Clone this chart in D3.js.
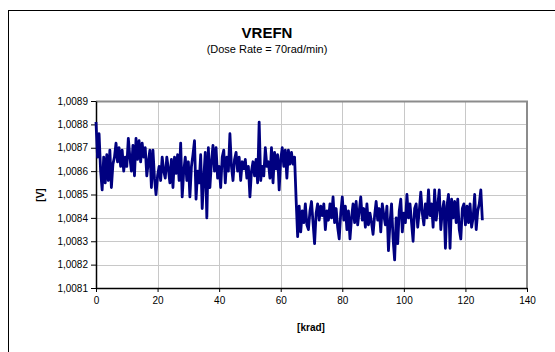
<!DOCTYPE html>
<html>
<head>
<meta charset="utf-8">
<script src="https://cdn.jsdelivr.net/npm/d3@7"></script>
<style>
  body { margin: 0; background: #fff; }
  svg { font-family: "Liberation Sans", Arial, sans-serif; }
  .tick text { font-size: 10px; fill: #000; }
</style>
</head>
<body>
<div id="chart"></div>
<script>
var svgWidth = 555;
var svgHeight = 352;

var margin = { top: 101, right: 28, bottom: 64, left: 96 };
var chartWidth = 527 - margin.left;
var chartHeight = 288 - margin.top;

var titleText = "VREFN";
var subtitleText = "(Dose Rate = 70rad/min)";
var xLabel = "[krad]";
var yLabel = "[V]";

var xTicks = [0, 20, 40, 60, 80, 100, 120, 140];
var yTicks = [1.0081, 1.0082, 1.0083, 1.0084, 1.0085, 1.0086, 1.0087, 1.0088, 1.0089];

// dose in krad
var dose = [
  0, 0.5, 1, 1.5, 2, 2.5, 3, 3.5, 4, 4.5, 5, 5.5, 6, 6.5, 7, 7.5, 8, 8.5, 9, 9.5,
  10, 10.5, 11, 11.5, 12, 12.5, 13, 13.5, 14, 14.5, 15, 15.5, 16, 16.5, 17, 17.5, 18, 18.5, 19, 19.5,
  20, 20.5, 21, 21.5, 22, 22.5, 23, 23.5, 24, 24.5, 25, 25.5, 26, 26.5, 27, 27.5, 28, 28.5, 29, 29.5,
  30, 30.5, 31, 31.5, 32, 32.5, 33, 33.5, 34, 34.5, 35, 35.5, 36, 36.5, 37, 37.5, 38, 38.5, 39, 39.5,
  40, 40.5, 41, 41.5, 42, 42.5, 43, 43.5, 44, 44.5, 45, 45.5, 46, 46.5, 47, 47.5, 48, 48.5, 49, 49.5,
  50, 50.5, 51, 51.5, 52, 52.5, 53, 53.5, 54, 54.5, 55, 55.5, 56, 56.5, 57, 57.5, 58, 58.5, 59, 59.5,
  60, 60.5, 61, 61.5, 62, 62.5, 63, 63.5, 64, 64.5, 65, 65.5, 66, 66.5, 67, 67.5, 68, 68.5, 69, 69.5,
  70, 70.5, 71, 71.5, 72, 72.5, 73, 73.5, 74, 74.5, 75, 75.5, 76, 76.5, 77, 77.5, 78, 78.5, 79, 79.5,
  80, 80.5, 81, 81.5, 82, 82.5, 83, 83.5, 84, 84.5, 85, 85.5, 86, 86.5, 87, 87.5, 88, 88.5, 89, 89.5,
  90, 90.5, 91, 91.5, 92, 92.5, 93, 93.5, 94, 94.5, 95, 95.5, 96, 96.5, 97, 97.5, 98, 98.5, 99, 99.5,
  100, 100.5, 101, 101.5, 102, 102.5, 103, 103.5, 104, 104.5, 105, 105.5, 106, 106.5, 107, 107.5, 108, 108.5, 109, 109.5,
  110, 110.5, 111, 111.5, 112, 112.5, 113, 113.5, 114, 114.5, 115, 115.5, 116, 116.5, 117, 117.5, 118, 118.5, 119, 119.5,
  120, 120.5, 121, 121.5, 122, 122.5, 123, 123.5, 124, 124.5, 125, 125.5
];

// VREFN in volts
var vrefn = [
  1.00881, 1.00866, 1.00876, 1.00860, 1.00852, 1.00866, 1.00855, 1.00867, 1.00856, 1.00869,
  1.00853, 1.00863, 1.00866, 1.00872, 1.00864, 1.00870, 1.00862, 1.00869, 1.00860, 1.00866,
  1.00862, 1.00874, 1.00866, 1.00860, 1.00871, 1.00858, 1.00874, 1.00865, 1.00873, 1.00864,
  1.00872, 1.00866, 1.00870, 1.00858, 1.00864, 1.00869, 1.00853, 1.00869, 1.00857, 1.00850,
  1.00858, 1.00862, 1.00856, 1.00866, 1.00860, 1.00857, 1.00866, 1.00861, 1.00855, 1.00865,
  1.00853, 1.00866, 1.00859, 1.00867, 1.00856, 1.00872, 1.00849, 1.00860, 1.00866, 1.00856,
  1.00864, 1.00849, 1.00862, 1.00867, 1.00873, 1.00848, 1.00860, 1.00855, 1.00867, 1.00844,
  1.00857, 1.00868, 1.00840, 1.00870, 1.00853, 1.00864, 1.00871, 1.00860, 1.00870, 1.00857,
  1.00862, 1.00853, 1.00866, 1.00869, 1.00855, 1.00866, 1.00860, 1.00876, 1.00862, 1.00856,
  1.00865, 1.00868, 1.00860, 1.00866, 1.00856, 1.00864, 1.00861, 1.00865, 1.00857, 1.00862,
  1.00849, 1.00860, 1.00864, 1.00858, 1.00865, 1.00855, 1.00881, 1.00856, 1.00862, 1.00858,
  1.00870, 1.00862, 1.00864, 1.00857, 1.00870, 1.00855, 1.00868, 1.00861, 1.00867, 1.00852,
  1.00865, 1.00870, 1.00862, 1.00869, 1.00857, 1.00869, 1.00863, 1.00868, 1.00863, 1.00866,
  1.00848, 1.00832, 1.00845, 1.00834, 1.00843, 1.00838, 1.00846, 1.00837, 1.00835, 1.00843,
  1.00847, 1.00838, 1.00829, 1.00842, 1.00846, 1.00839, 1.00845, 1.00841, 1.00846, 1.00835,
  1.00843, 1.00839, 1.00846, 1.00840, 1.00849, 1.00838, 1.00844, 1.00836, 1.00831, 1.00842,
  1.00849, 1.00839, 1.00845, 1.00835, 1.00843, 1.00831, 1.00840, 1.00846, 1.00838, 1.00847,
  1.00837, 1.00843, 1.00849, 1.00839, 1.00844, 1.00836, 1.00846, 1.00837, 1.00842, 1.00838,
  1.00833, 1.00841, 1.00847, 1.00839, 1.00844, 1.00834, 1.00846, 1.00841, 1.00837, 1.00845,
  1.00826, 1.00838, 1.00846, 1.00831, 1.00822, 1.00840, 1.00829, 1.00843, 1.00848, 1.00834,
  1.00842, 1.00838, 1.00850, 1.00840, 1.00846, 1.00838, 1.00830, 1.00844, 1.00846, 1.00836,
  1.00843, 1.00851, 1.00842, 1.00837, 1.00846, 1.00840, 1.00852, 1.00841, 1.00846, 1.00836,
  1.00852, 1.00839, 1.00845, 1.00852, 1.00835, 1.00843, 1.00847, 1.00827, 1.00845, 1.00850,
  1.00827, 1.00848, 1.00840, 1.00847, 1.00838, 1.00848, 1.00835, 1.00831, 1.00844, 1.00846,
  1.00837, 1.00845, 1.00838, 1.00846, 1.00836, 1.00840, 1.00850, 1.00835, 1.00843, 1.00846,
  1.00852, 1.00839
];

var svg = d3.select("#chart")
  .append("svg")
  .attr("width", svgWidth)
  .attr("height", svgHeight);

// outer chart border (runs off the right and bottom edges)
svg.append("rect")
  .attr("x", 8.5)
  .attr("y", 10.5)
  .attr("width", 600)
  .attr("height", 400)
  .attr("fill", "#fff")
  .attr("stroke", "#000")
  .attr("stroke-width", 1);

svg.append("text")
  .attr("x", 267)
  .attr("y", 38)
  .attr("text-anchor", "middle")
  .style("font-size", "15px")
  .style("font-weight", "bold")
  .text(titleText);

svg.append("text")
  .attr("x", 267)
  .attr("y", 53)
  .attr("text-anchor", "middle")
  .style("font-size", "11px")
  .text(subtitleText);

var chartGroup = svg.append("g")
  .attr("transform", `translate(${margin.left},${margin.top})`);

var xScale = d3.scaleLinear()
  .domain([0, 140])
  .range([0, chartWidth]);

var yScale = d3.scaleLinear()
  .domain([1.0081, 1.0089])
  .range([chartHeight, 0]);

// grid
chartGroup.append("g")
  .selectAll("line")
  .data(yTicks)
  .enter()
  .append("line")
  .attr("x1", 0)
  .attr("x2", chartWidth)
  .attr("y1", d => Math.round(yScale(d)) + 0.5)
  .attr("y2", d => Math.round(yScale(d)) + 0.5)
  .attr("stroke", "#c8c8c8");

chartGroup.append("g")
  .selectAll("line")
  .data(xTicks)
  .enter()
  .append("line")
  .attr("x1", d => Math.round(xScale(d)) + 0.5)
  .attr("x2", d => Math.round(xScale(d)) + 0.5)
  .attr("y1", 0)
  .attr("y2", chartHeight)
  .attr("stroke", "#c8c8c8");

// gray plot-area frame on top and right
chartGroup.append("path")
  .attr("d", `M0,0.5H${chartWidth}V${chartHeight}`)
  .attr("fill", "none")
  .attr("stroke", "#8c8c8c")
  .attr("stroke-width", 2);

var commaFmt = d => d3.format(".4f")(d).replace(".", ",");

var xAxis = d3.axisBottom(xScale).tickValues(xTicks).tickSize(4).tickSizeOuter(0);
var yAxis = d3.axisLeft(yScale).tickValues(yTicks).tickSize(5).tickSizeOuter(0).tickFormat(commaFmt);

chartGroup.append("g")
  .attr("transform", `translate(0,${chartHeight})`)
  .call(xAxis)
  .call(g => g.selectAll("text").attr("y", 9))
  .call(g => g.selectAll("path, line").attr("stroke", "#000"));

chartGroup.append("g")
  .call(yAxis)
  .call(g => g.selectAll("text").attr("x", -8))
  .call(g => g.selectAll("path, line").attr("stroke", "#000"));

chartGroup.selectAll(".domain").attr("stroke-width", 1.5);

// series line
var line = d3.line()
  .x((d, i) => xScale(dose[i]))
  .y(d => yScale(d));

chartGroup.append("path")
  .datum(vrefn)
  .attr("d", line)
  .attr("fill", "none")
  .attr("stroke", "#000080")
  .attr("stroke-width", 2.8)
  .attr("stroke-linejoin", "round");

// axis titles
svg.append("text")
  .attr("x", 311)
  .attr("y", 331)
  .attr("text-anchor", "middle")
  .style("font-size", "10px")
  .style("font-weight", "bold")
  .text(xLabel);

svg.append("text")
  .attr("transform", "translate(44,195) rotate(-90)")
  .attr("text-anchor", "middle")
  .style("font-size", "10px")
  .style("font-weight", "bold")
  .text(yLabel);
</script>
</body>
</html>
